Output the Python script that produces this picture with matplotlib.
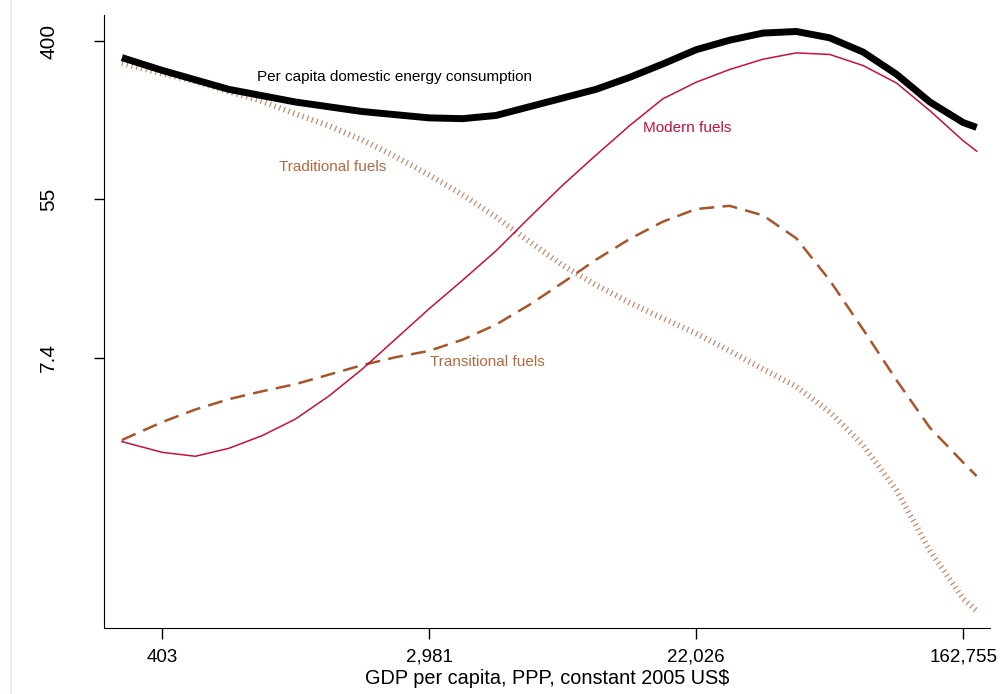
import numpy as np
import matplotlib
matplotlib.use("Agg")
import matplotlib.pyplot as plt
from matplotlib.lines import Line2D

plt.rcParams['font.family'] = ['Liberation Sans', 'DejaVu Sans']

# log GDP per capita (natural log, PPP constant 2005 US$)
ln_gdp = [5.7, 6.0, 6.25, 6.5, 6.75, 7.0, 7.25, 7.5, 7.75, 8.0, 8.25, 8.5, 8.75,
          9.0, 9.25, 9.5, 9.75, 10.0, 10.25, 10.5, 10.75, 11.0, 11.25, 11.5,
          11.75, 12.0, 12.1]

# log per capita energy use
total = [5.79, 5.63, 5.51, 5.39, 5.31, 5.23, 5.17, 5.11, 5.07, 5.03, 5.02, 5.06,
         5.17, 5.28, 5.39, 5.54, 5.71, 5.89, 6.01, 6.10, 6.12, 6.04, 5.86, 5.58,
         5.23, 4.97, 4.91]
modern = [0.945, 0.81, 0.76, 0.86, 1.02, 1.23, 1.52, 1.86, 2.24, 2.62, 2.98, 3.35,
          3.77, 4.18, 4.56, 4.93, 5.27, 5.48, 5.64, 5.77, 5.85, 5.83, 5.69, 5.47,
          5.12, 4.74, 4.61]
transitional = [0.965, 1.19, 1.35, 1.48, 1.58, 1.67, 1.79, 1.91, 2.01, 2.09, 2.23,
                2.42, 2.67, 2.95, 3.24, 3.50, 3.72, 3.88, 3.92, 3.80, 3.51, 2.98,
                2.36, 1.72, 1.12, 0.68, 0.51]
traditional = [5.72, 5.59, 5.49, 5.36, 5.24, 5.08, 4.93, 4.75, 4.54, 4.31, 4.06,
               3.78, 3.47, 3.17, 2.92, 2.70, 2.50, 2.31, 2.09, 1.86, 1.64, 1.32,
               0.90, 0.33, -0.43, -1.04, -1.19]

xticks = [6, 8, 10, 12]
xticklabels = ["403", "2,981", "22,026", "162,755"]
yticks = [2, 4, 6]
yticklabels = ["7.4", "55", "400"]

red = "#c8103c"
brown = "#a9552b"
label_brown = "#b5683f"
light_brown = "#c48460"

fig = plt.figure(figsize=(10, 6.94), dpi=100)
ax = fig.add_axes([0.104, 66 / 694, 0.886, (628 - 15) / 694])

ax.plot(ln_gdp, traditional, color=light_brown, lw=4.2, dashes=(0.2, 0.65),
        solid_capstyle='butt', dash_capstyle='butt')
ax.plot(ln_gdp, transitional, color=brown, lw=1.8, dashes=(6, 3.3))
ax.plot(ln_gdp, modern, color=red, lw=1.1)
ax.plot(ln_gdp, total, color="black", lw=5, solid_capstyle='butt')

ax.text(6.71, 5.55, "Per capita domestic energy consumption", color="black",
        fontsize=11, ha="left", va="center")
ax.text(6.88, 4.41, "Traditional fuels", color=label_brown, fontsize=11,
        ha="left", va="center")
ax.text(9.60, 4.90, "Modern fuels", color=red, fontsize=11,
        ha="left", va="center")
ax.text(8.01, 1.95, "Transitional fuels", color=label_brown, fontsize=11,
        ha="left", va="center")

ax.set_xlim(5.566, 12.20)
ax.set_ylim(-1.407, 6.328)
ax.set_xticks(xticks)
ax.set_xticklabels(xticklabels, fontsize=13.5)
ax.set_yticks(yticks)
ax.set_yticklabels(yticklabels, fontsize=15, rotation=90, va="center")
ax.tick_params(axis="x", length=8, width=1, pad=7)
ax.tick_params(axis="y", length=7, width=1, pad=26)
ax.set_xlabel("GDP per capita, PPP, constant 2005 US$", fontsize=14.3,
              labelpad=2)
for s in ["top", "right"]:
    ax.spines[s].set_visible(False)

fig.add_artist(Line2D([0.0105, 0.0105], [0, 1], color="#e6eef2", lw=1.5,
                      transform=fig.transFigure))

fig.savefig("out.png", dpi=100)
